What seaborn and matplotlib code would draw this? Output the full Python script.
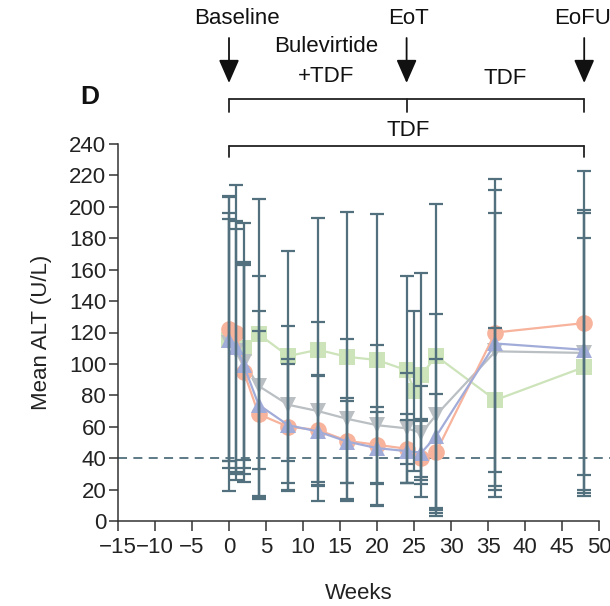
import numpy as np
import pandas as pd
import matplotlib
matplotlib.use("Agg")
import matplotlib.pyplot as plt
import matplotlib.transforms as mtransforms
import seaborn as sns

# ---------------- data ----------------
weeks_blv = [0, 1, 2, 4, 8, 12, 16, 20, 24, 26, 28, 36, 48]
weeks_tdf = [0, 2, 4, 8, 12, 16, 20, 24, 25, 26, 28, 36, 48]

alt_orange = [122, 120, 95, 68, 60, 58, 51, 48.5, 46, 40, 44, 120, 126]
sd_orange = [84, 94, 70, 53, 40, 35, 27, 24, 22, 25, 37, 98, 97]

alt_blue = [115, 111, 99, 74, 61, 57, 50.5, 46.4, 44.5, 43.5, 54, 113, 109]
sd_blue = [77, 80, 65, 60, 42, 35, 26, 23, 20, 20, 49, 98, 89]

alt_gray = [113, 108, 101, 86, 74, 70, 65, 61, 59, 56, 67.5, 108, 107]
sd_gray = [94, 78, 62, 70, 50, 57, 51, 51, 35, 30, 64, 88, 89]

alt_green = [115, 110, 119, 105, 109, 104.5, 102.5, 96, 83, 93, 105, 77, 98]
sd_green = [81, 80, 86, 67, 84, 92, 93, 60, 51, 65, 97, 46, 82]

groups = ["TDF", "BLV 10 mg + TDF", "BLV 2 mg + TDF", "BLV 5 mg + TDF"]
colors = {"TDF": "#cde3ba", "BLV 10 mg + TDF": "#b9bfc2",
          "BLV 2 mg + TDF": "#f7b39c", "BLV 5 mg + TDF": "#a2acd9"}
markers = {"TDF": "s", "BLV 10 mg + TDF": "v",
           "BLV 2 mg + TDF": "o", "BLV 5 mg + TDF": "^"}

series = {
    "TDF": (weeks_tdf, alt_green, sd_green),
    "BLV 10 mg + TDF": (weeks_blv, alt_gray, sd_gray),
    "BLV 2 mg + TDF": (weeks_blv, alt_orange, sd_orange),
    "BLV 5 mg + TDF": (weeks_blv, alt_blue, sd_blue),
}

rows = []
for g in groups:
    w, m, s = series[g]
    for wi, mi, si in zip(w, m, s):
        rows.append({"group": g, "week": wi, "alt": mi, "sd": si})
df = pd.DataFrame(rows)

x_ticks = list(range(-15, 51, 5))
y_ticks = list(range(0, 241, 20))

# ---------------- style ----------------
sns.set_style("ticks")
plt.rcParams["font.family"] = ["Liberation Sans", "DejaVu Sans"]
plt.rcParams["font.size"] = 16

fig = plt.figure(figsize=(6.10, 6.06), dpi=100)
ax = fig.add_axes([118 / 610, 1 - 521 / 606, 481 / 610, 377 / 606])

err_col = "#52707e"
spine_col = "#333333"

for i, g in enumerate(groups):
    sub = df[df.group == g]
    sns.lineplot(data=sub, x="week", y="alt", color=colors[g],
                 marker=markers[g], markersize=12, markeredgewidth=0,
                 linewidth=1.6, ax=ax, legend=False, zorder=2 + i,
                 errorbar=None)

for g in groups:
    sub = df[df.group == g]
    ax.errorbar(sub.week, sub.alt, yerr=sub.sd, fmt="none", ecolor=err_col,
                elinewidth=1.6, capsize=5, capthick=1.6, zorder=10)

ax.plot([-15, 51.5], [40, 40], ls=(0, (5, 3.5)), color=err_col, lw=1.3,
        clip_on=False, zorder=1)

ax.set_xlim(-15, 50)
ax.set_ylim(0, 240)
ax.set_xticks(x_ticks)
ax.set_yticks(y_ticks)
ax.tick_params(axis="both", labelsize=16, color=spine_col, width=1.1,
               labelcolor="#222222")
ax.tick_params(axis="x", length=7.5, pad=4)
ax.tick_params(axis="y", length=6.5, pad=2)
for side in ["top", "right"]:
    ax.spines[side].set_visible(False)
for side in ["left", "bottom"]:
    ax.spines[side].set_color(spine_col)
    ax.spines[side].set_linewidth(1.1)
ax.set_xlabel("Weeks", fontsize=16, labelpad=18, color="#222222")
ax.set_ylabel("Mean ALT (U/L)", fontsize=16, labelpad=12, color="#222222")

# ---------------- top annotations ----------------
tr = mtransforms.blended_transform_factory(ax.transData, fig.transFigure)


def fy(p):
    return 1 - p / 606


for xw, lab, xt in [(0, "Baseline", 1.1), (24, "EoT", 24.2), (48, "EoFU", 47.8)]:
    ax.text(xt, fy(18), lab, transform=tr, ha="center", va="center",
            fontsize=16, color="#111111")
    ax.annotate("", xy=(xw, fy(83)), xytext=(xw, fy(38)), xycoords=tr,
                textcoords=tr,
                arrowprops=dict(arrowstyle="-|>,head_length=0.8,head_width=0.35",
                                color="#111111", lw=1.3, mutation_scale=18,
                                shrinkA=0, shrinkB=0))

ax.text(13.1, fy(47), "Bulevirtide", transform=tr, ha="center", va="center",
        fontsize=16, color="#111111")
ax.text(13.1, fy(77), "+TDF", transform=tr, ha="center", va="center",
        fontsize=16, color="#111111")
ax.text(37.3, fy(78), "TDF", transform=tr, ha="center", va="center",
        fontsize=16, color="#111111")
ax.text(24.2, fy(131), "TDF", transform=tr, ha="center", va="center",
        fontsize=16, color="#111111")
ax.text(-18.8, fy(97), "D", transform=tr, ha="center", va="center",
        fontsize=19, fontweight="bold", color="#111111")

kw = dict(transform=tr, color="#222222", lw=1.3, clip_on=False)
ax.plot([0, 48], [fy(99), fy(99)], **kw)
for xw in [0, 24, 48]:
    ax.plot([xw, xw], [fy(99), fy(112)], **kw)
ax.plot([0, 48], [fy(146), fy(146)], **kw)
for xw in [0, 48]:
    ax.plot([xw, xw], [fy(146), fy(157)], **kw)

fig.savefig("out.png", dpi=100)
